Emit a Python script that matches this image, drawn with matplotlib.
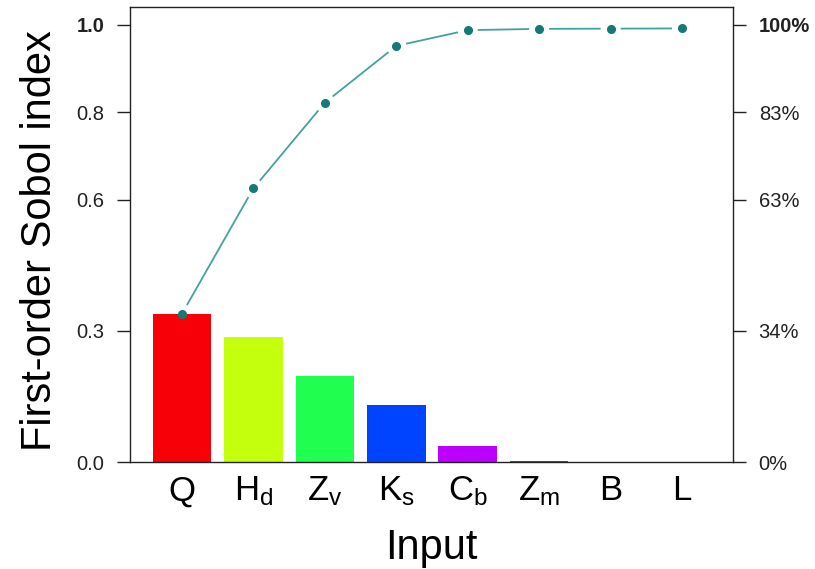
import numpy as np
import matplotlib
matplotlib.use("Agg")
import matplotlib.pyplot as plt

plt.rcParams['font.family'] = ['Liberation Sans', 'DejaVu Sans']
plt.rcParams['mathtext.fontset'] = 'custom'
plt.rcParams['mathtext.rm'] = 'Liberation Sans'
plt.rcParams['mathtext.it'] = 'Liberation Sans'

# data
inputs = ["Q", "H$_\\mathrm{d}$", "Z$_\\mathrm{v}$", "K$_\\mathrm{s}$",
          "C$_\\mathrm{b}$", "Z$_\\mathrm{m}$", "B", "L"]
sobol = [0.339, 0.287, 0.196, 0.130, 0.036, 0.003, 0.0005, 0.0005]
bar_colors = ["#f70008", "#c4ff0e", "#20ff50", "#0044ff", "#bb00ff", "#ff0040", "#ff0040", "#ff0040"]
left_ticks = [0.0, 0.3, 0.6, 0.8, 1.0]
left_labels = ["0.0", "0.3", "0.6", "0.8", "1.0"]
right_labels = ["0%", "34%", "63%", "83%", "100%"]

cum = np.cumsum(sobol)
x = np.arange(len(inputs))

fig = plt.figure(figsize=(8.15, 5.69), dpi=100)
ax = fig.add_axes([130 / 815, 1 - 462 / 569, (733 - 130) / 815, (462 - 7) / 569])

ax.bar(x, sobol, width=0.82, color=bar_colors, zorder=2)
ax.set_xlim(-0.727, 7.713)
ax.set_ylim(0, 1.041)

# cumulative line, broken around the points like R type="b"
fig.canvas.draw()
pts = ax.transData.transform(np.column_stack([x, cum]))
gap = 10
for i in range(len(pts) - 1):
    p0, p1 = pts[i], pts[i + 1]
    d = p1 - p0
    L = np.hypot(*d)
    if L <= 2 * gap:
        continue
    u = d / L
    seg = ax.transData.inverted().transform(np.array([p0 + u * gap, p1 - u * gap]))
    ax.plot(seg[:, 0], seg[:, 1], color="#45a19d", lw=1.3, zorder=3, solid_capstyle="butt")
ax.plot(x, cum, linestyle="none", marker="o", ms=5.5, color="#137a76", zorder=4)

for s in ax.spines.values():
    s.set_linewidth(1.0)
    s.set_color("#222222")

ax.set_yticks(left_ticks)
ax.set_yticklabels(left_labels)
ax.tick_params(axis="y", direction="out", length=9.5, width=1.0, pad=9, labelsize=14.5, colors="#222222")
ax.get_yticklabels()[-1].set_fontweight("bold")

ax.set_xticks(x)
ax.set_xticklabels(inputs)
ax.tick_params(axis="x", length=0, pad=9, labelsize=25)

ax2 = ax.twinx()
ax2.set_ylim(ax.get_ylim())
ax2.set_yticks(left_ticks)
ax2.set_yticklabels(right_labels)
ax2.tick_params(axis="y", direction="out", length=9.5, width=1.0, pad=9, labelsize=14.5, colors="#222222")
ax2.get_yticklabels()[-1].set_fontweight("bold")
for s in ax2.spines.values():
    s.set_visible(False)

ax.set_ylabel("First-order Sobol index", fontsize=30, labelpad=12, y=0.486)
ax.set_xlabel("Input", fontsize=30, labelpad=14)

fig.savefig("out.png", dpi=100)
